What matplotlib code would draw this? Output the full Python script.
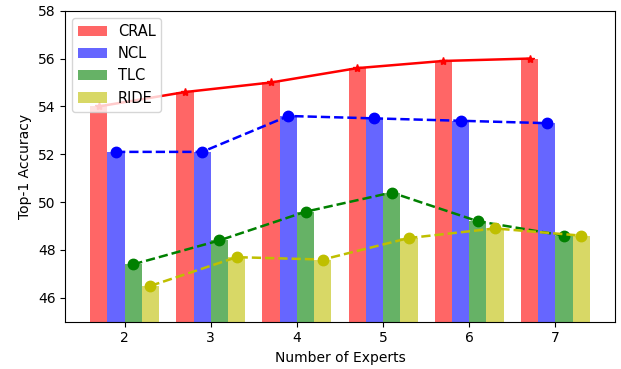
import numpy as np
import matplotlib
matplotlib.use('Agg')
import matplotlib.pyplot as plt

experts = [2, 3, 4, 5, 6, 7]
cral = [54.0, 54.6, 55.0, 55.6, 55.9, 56.0]
ncl = [52.1, 52.1, 53.6, 53.5, 53.4, 53.3]
tlc = [47.4, 48.4, 49.6, 50.4, 49.2, 48.6]
ride = [46.5, 47.7, 47.6, 48.5, 48.9, 48.6]

x = np.array(experts, dtype=float)
w = 0.2

fig = plt.figure(figsize=(6.21, 3.69), dpi=100)
ax = fig.add_axes([0.105, 0.128, 0.885, 0.843])

ax.bar(x - 1.5 * w, cral, w, color='r', alpha=0.6, label='CRAL')
ax.bar(x - 0.5 * w, ncl, w, color='b', alpha=0.6, label='NCL')
ax.bar(x + 0.5 * w, tlc, w, color='g', alpha=0.6, label='TLC')
ax.bar(x + 1.5 * w, ride, w, color='y', alpha=0.6, label='RIDE')

lw = 1.8
ax.plot(x - 1.5 * w, cral, 'r-*', lw=lw, ms=6)
ax.plot(x - 0.5 * w, ncl, 'b--o', lw=lw, ms=7.5)
ax.plot(x + 0.5 * w, tlc, 'g--o', lw=lw, ms=7.5)
ax.plot(x + 1.5 * w, ride, 'y--o', lw=lw, ms=7.5)

ax.set_ylim(45, 58)
ax.set_xticks(x)
ax.set_xticklabels([str(e) for e in experts])
ax.set_xlabel('Number of Experts')
ax.set_ylabel('Top-1 Accuracy')
ax.legend(loc='upper left', fontsize=10.5, handletextpad=0.7)

fig.savefig('out.png', dpi=100)
